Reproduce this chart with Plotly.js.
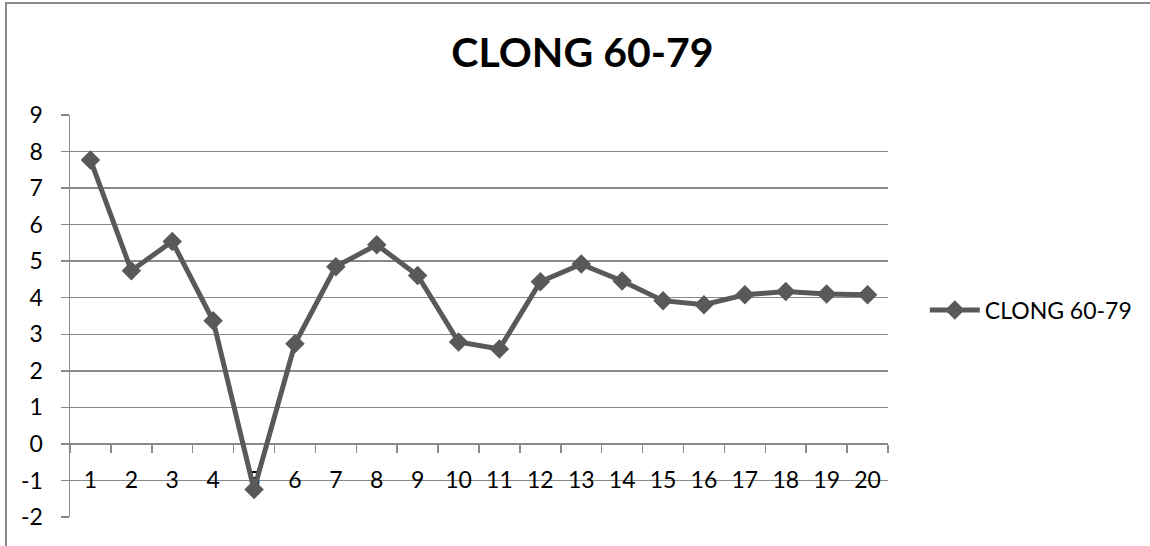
<!DOCTYPE html>
<html>
<head>
<meta charset="utf-8">
<script src="https://cdn.plot.ly/plotly-3.0.1.min.js"></script>
<style>
  html, body { margin: 0; padding: 0; background: #ffffff; }
  #wrap { position: relative; width: 1150px; height: 546px; overflow: hidden; }
  #chart { position: absolute; left: 0; top: 0; width: 1150px; height: 546px; }
  #frame { position: absolute; left: 5px; top: 2px; width: 1200px; height: 600px;
           border-left: 2px solid #8a8a8a; border-top: 2px solid #8a8a8a; pointer-events: none; }
</style>
</head>
<body>
<div id="wrap">
  <div id="chart"></div>
  <div id="frame"></div>
</div>
<script>
// Series: CLONG 60-79, one value per period 1..20
const periods = ['1','2','3','4','5','6','7','8','9','10','11','12','13','14','15','16','17','18','19','20'];
const clongValues = [7.77, 4.74, 5.54, 3.37, -1.25, 2.74, 4.85, 5.45, 4.61, 2.79,
                     2.60, 4.44, 4.92, 4.46, 3.92, 3.81, 4.08, 4.17, 4.10, 4.08];
const seriesName = 'CLONG 60-79';
const yTicks = [-2, -1, 0, 1, 2, 3, 4, 5, 6, 7, 8, 9];

const yMin = -2, yMax = 9;
const textFont = 'Lato, "Open Sans", sans-serif';
const grey = '#898989';

const trace = {
  type: 'scatter',
  mode: 'lines+markers',
  name: seriesName,
  x: periods,
  y: clongValues,
  line: { color: '#595959', width: 5 },
  marker: { symbol: 'diamond', size: 15, color: '#595959' },
  cliponaxis: false
};

const layout = {
  width: 1150,
  height: 546,
  margin: { l: 70, r: 262, t: 115, b: 29 },
  paper_bgcolor: '#ffffff',
  plot_bgcolor: '#ffffff',
  title: {
    text: '<b>CLONG 60-79</b>',
    font: { family: textFont, size: 41, color: '#000000' },
    x: 0.5065, xanchor: 'center',
    y: 0.903, yanchor: 'middle'
  },
  showlegend: true,
  legend: {
    x: 1.045, xanchor: 'left',
    y: 0.515, yanchor: 'middle',
    font: { family: textFont, size: 23, color: '#000000' },
    bgcolor: 'rgba(0,0,0,0)',
    itemwidth: 50
  },
  xaxis: {
    type: 'category',
    range: [-0.5, 19.5],
    anchor: 'free',
    position: (0 - yMin) / (yMax - yMin),
    showline: true,
    linecolor: grey,
    linewidth: 1.5,
    showgrid: false,
    zeroline: false,
    ticks: 'outside',
    tickson: 'boundaries',
    ticklen: 8,
    tickcolor: grey,
    tickwidth: 1.5,
    ticklabelstandoff: 15,
    tickfont: { family: textFont, size: 23, color: '#000000' },
    layer: 'below traces',
    fixedrange: true
  },
  yaxis: {
    range: [yMin, yMax],
    tickmode: 'array',
    tickvals: yTicks,
    ticktext: yTicks.map(String),
    showline: true,
    linecolor: grey,
    linewidth: 1.5,
    showgrid: true,
    gridcolor: grey,
    gridwidth: 1.5,
    zeroline: false,
    ticks: 'outside',
    ticklen: 8,
    tickcolor: grey,
    tickwidth: 1.5,
    ticklabelstandoff: 13,
    tickfont: { family: textFont, size: 23, color: '#000000' },
    layer: 'below traces',
    fixedrange: true
  }
};

Plotly.newPlot('chart', [trace], layout, { displayModeBar: false, staticPlot: true });
</script>
</body>
</html>
